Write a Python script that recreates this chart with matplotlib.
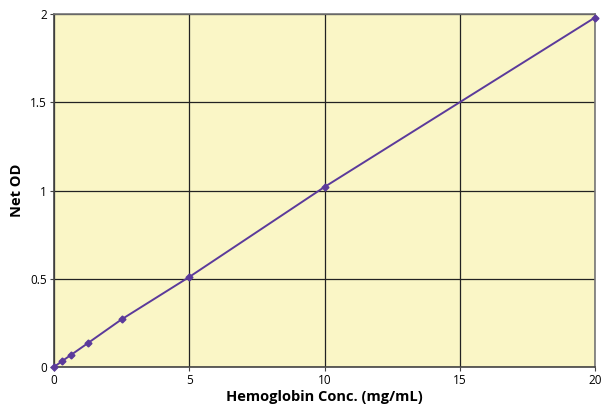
import matplotlib
matplotlib.use("Agg")
import matplotlib.pyplot as plt

conc = [0, 0.3125, 0.625, 1.25, 2.5, 5, 10, 20]
net_od = [0, 0.035, 0.068, 0.135, 0.27, 0.51, 1.02, 1.98]
x_ticks = [0, 5, 10, 15, 20]
y_ticks = [0, 0.5, 1, 1.5, 2]
y_labels = ["0", "0.5", "1", "1.5", "2"]

plt.rcParams['font.family'] = ['Open Sans', 'DejaVu Sans']

fig = plt.figure(figsize=(6.09, 4.04), dpi=100)
ax = fig.add_axes([54/609, 37/404, 541/609, 353/404])
ax.set_facecolor('#FAF6C6')
ax.plot(conc, net_od, color='#5B3A9B', lw=1.4, marker='D', ms=3.5, zorder=3, clip_on=False)
ax.set_xlim(0, 20)
ax.set_ylim(0, 2)
ax.set_xticks(x_ticks)
ax.set_yticks(y_ticks)
ax.set_yticklabels(y_labels)
ax.grid(True, color='#222222', lw=0.9)
ax.set_axisbelow(True)
for s in ax.spines.values():
    s.set_color('#777777')
    s.set_linewidth(1.2)
ax.spines['left'].set_color('#444444')
ax.spines['bottom'].set_color('#444444')
ax.tick_params(axis='both', labelsize=8.5, length=3, color='#444444', pad=2)
ax.set_xlabel('Hemoglobin Conc. (mg/mL)', fontsize=10.5, fontweight='bold', labelpad=2)
ax.set_ylabel('Net OD', fontsize=10.5, fontweight='bold')
ax.yaxis.set_label_coords(-0.056, 0.5)
fig.savefig('out.png', dpi=100)
